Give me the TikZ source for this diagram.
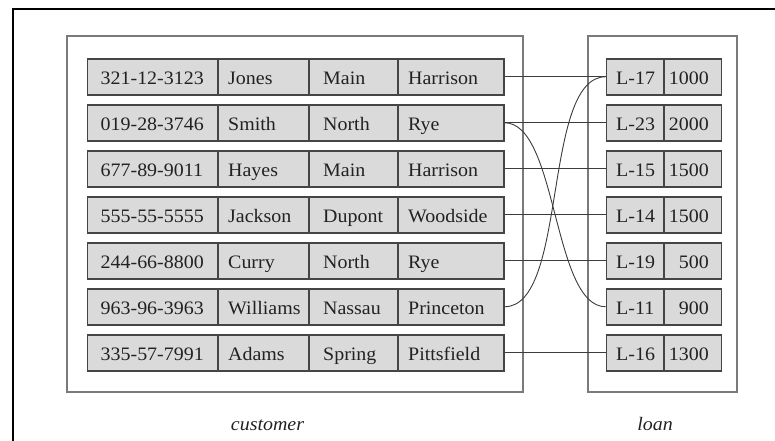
\documentclass[tikz,border=0pt]{standalone}
\usepackage{fontspec}
\setmainfont{Liberation Serif}
\definecolor{cellfill}{HTML}{DADADA}
\definecolor{cellline}{HTML}{454545}
\definecolor{framec}{HTML}{7A7A7A}
\definecolor{textc}{HTML}{222222}
\definecolor{connc}{HTML}{3C3C3C}
% slightly widened glyphs
\newcommand{\tx}[1]{\scalebox{1.05}[1]{#1}}
\begin{document}
\begin{tikzpicture}[x=1pt,y=-1pt,
  cell/.style={draw=cellline, fill=cellfill, line width=1.5pt, minimum height=36pt,
    inner sep=0pt, anchor=north west},
  txt/.style={anchor=base west, inner sep=0pt, text=textc, font=\fontsize{19}{21}\selectfont},
  amt/.style={txt, anchor=base east},
  frame/.style={draw=framec, line width=1.3pt},
  conn/.style={draw=connc, line width=0.9pt},
  link/.style={conn, out=0, in=180, looseness=0.65},
  lbl/.style={anchor=base, inner sep=0pt, text=textc, font=\fontsize{19}{21}\selectfont\itshape}]
\useasboundingbox (0,0) rectangle (775,440);

% outer frame (left and top edges)
\draw[line width=2.6pt] (13,460) -- (13,9) -- (790,9);

% relation boxes
\path[frame] (67,36) rectangle (523,392);
\path[frame] (588,36) rectangle (737,392);

% customer tuples
\foreach \r/\a/\b/\c/\d in {
  1/321-12-3123/Jones/Main/Harrison,
  2/019-28-3746/Smith/North/Rye,
  3/677-89-9011/Hayes/Main/Harrison,
  4/555-55-5555/Jackson/Dupont/Woodside,
  5/244-66-8800/Curry/North/Rye,
  6/963-96-3963/Williams/Nassau/Princeton,
  7/335-57-7991/Adams/Spring/Pittsfield}{
  \pgfmathsetmacro\yt{58+46*(\r-1)}
  \node[cell, minimum width=130.3pt] (c\r a) at (86.7,\yt) {};
  \node[cell, minimum width=91pt] (c\r b) at (217,\yt) {};
  \node[cell, minimum width=89pt] (c\r c) at (308,\yt) {};
  \node[cell, minimum width=106pt] (c\r d) at (397,\yt) {};
  \node[txt] (tc\r a) at (100.5,\yt+26) {\tx{\a}};
  \node[txt] (tc\r b) at (228,\yt+26) {\tx{\b}};
  \node[txt] (tc\r c) at (323,\yt+26) {\tx{\c}};
  \node[txt] (tc\r d) at (408,\yt+26) {\tx{\d}};
}

% loan tuples
\foreach \r/\a/\b in {1/L-17/1000, 2/L-23/2000, 3/L-15/1500, 4/L-14/1500,
  5/L-19/500, 6/L-11/900, 7/L-16/1300}{
  \pgfmathsetmacro\yt{58+46*(\r-1)}
  \node[cell, minimum width=57.3pt] (l\r a) at (605.7,\yt) {};
  \node[cell, minimum width=57.7pt] (l\r b) at (663,\yt) {};
  \node[txt] (tl\r a) at (616,\yt+26) {\tx{\a}};
  \node[amt] (tl\r b) at (709,\yt+26) {\tx{\b}};
}

% borrower links
\draw[conn] (c1d.east) -- (l1a.west);
\draw[conn] (c2d.east) -- (l2a.west);
\draw[link] (c2d.east) to (l6a.west);
\draw[conn] (c3d.east) -- (l3a.west);
\draw[conn] (c4d.east) -- (l4a.west);
\draw[conn] (c5d.east) -- (l5a.west);
\draw[link] (c6d.east) to (l1a.west);
\draw[conn] (c7d.east) -- (l7a.west);

% relation names
\node[lbl] (custname) at (267.5,430) {\tx{customer}};
\node[lbl] (loanname) at (655,430) {\tx{loan}};
\end{tikzpicture}
\end{document}
